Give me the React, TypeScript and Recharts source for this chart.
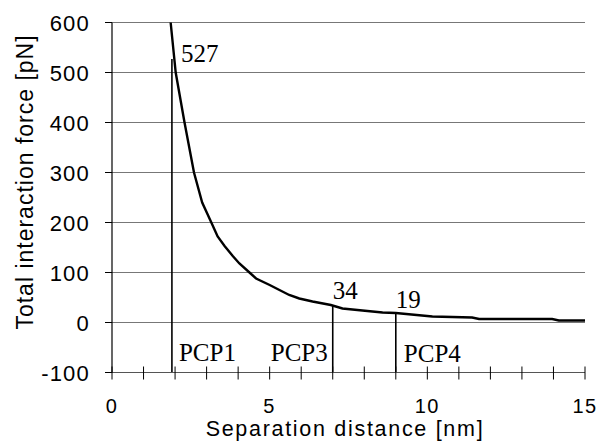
import React from 'react'
import {
  ComposedChart,
  Line,
  XAxis,
  YAxis,
  CartesianGrid,
  ReferenceLine,
  ReferenceDot,
} from 'recharts'

// separation distance [nm] and total force [pN]
const distance = [
  1.86, 2.02, 2.3, 2.6, 2.86, 3.15, 3.35, 3.57, 3.83, 4.04, 4.36, 4.57, 5.0,
  5.31, 5.62, 5.94, 6.36, 6.94, 7.31, 7.94, 8.58, 9.0, 10.16, 11.42, 11.64,
  13.96, 14.17, 15,
]
const force = [
  600, 500, 400, 300, 240, 200, 172, 153, 133, 118, 100, 88, 75, 65, 55, 48, 42,
  35, 28, 24, 20, 19, 12, 10, 7, 7, 4, 4,
]

// primary contact points
const markerX = [1.9, 7, 9]
const markerForce = [527, 34, 19]
const markerNames = ['PCP1', 'PCP3', 'PCP4']

const xTicks = [0, 1, 2, 3, 4, 5, 6, 7, 8, 9, 10, 11, 12, 13, 14, 15]
const yTicks = [-100, 0, 100, 200, 300, 400, 500, 600]

const data = distance.map((d, i) => ({ d, force: force[i] }))

const SANS = '"Liberation Sans", Arial, sans-serif'
const SERIF = '"Liberation Serif", "Times New Roman", serif'

// label offsets (px) for the value and name texts
const valueOffset = [
  { dx: 9, dy: 3, anchor: 'start' },
  { dx: 0, dy: -7, anchor: 'start' },
  { dx: 0, dy: -5, anchor: 'start' },
]
const nameOffset = [
  { dx: 7, dy: -12, anchor: 'start' },
  { dx: -5, dy: -12, anchor: 'end' },
  { dx: 8, dy: -11, anchor: 'start' },
]

function XTick(props: any) {
  const { x, y, payload } = props
  return (
    <g>
      <line x1={x} x2={x} y1={y - 6} y2={y + 7} stroke="#000" strokeWidth={1} />
      {payload.value % 5 === 0 && (
        <text
          x={x}
          y={y + 40}
          textAnchor="middle"
          fontFamily={SANS}
          fontSize={20}
          letterSpacing={1.5}
          fill="#000"
        >
          {payload.value}
        </text>
      )}
    </g>
  )
}

function YTick(props: any) {
  const { x, y, payload } = props
  return (
    <text
      x={x}
      y={y + 8}
      textAnchor="end"
      fontFamily={SANS}
      fontSize={22}
      letterSpacing={1.2}
      fill="#000"
    >
      {payload.value}
    </text>
  )
}

function serifLabel(text: string, off: { dx: number; dy: number; anchor: string }) {
  return (props: any) => {
    const vb = props.viewBox || {}
    return (
      <text
        x={vb.x + off.dx}
        y={vb.y + off.dy}
        textAnchor={off.anchor as any}
        fontFamily={SERIF}
        fontSize={25}
        fill="#000"
      >
        {text}
      </text>
    )
  }
}

export default function App() {
  return (
    <div style={{ position: 'absolute', left: 0, top: 0, background: '#fff' }}>
      <ComposedChart
        width={605}
        height={446}
        data={data}
        margin={{ top: 22.5, right: 20, bottom: 43.5, left: 0 }}
      >
        <CartesianGrid vertical={false} stroke="#777" strokeWidth={1.2} />
        <XAxis
          dataKey="d"
          type="number"
          domain={[0, 15]}
          ticks={xTicks}
          interval={0}
          height={30}
          tickSize={0}
          tickMargin={0}
          tickLine={false}
          axisLine={{ stroke: '#555', strokeWidth: 1.2 }}
          tick={<XTick />}
          label={{
            content: () => (
              <text
                x={345}
                y={436}
                textAnchor="middle"
                fontFamily={SANS}
                fontSize={21.5}
                letterSpacing={1.7}
                fill="#000"
              >
                Separation distance [nm]
              </text>
            ),
          }}
        />
        <YAxis
          type="number"
          width={112}
          domain={[-100, 600]}
          ticks={yTicks}
          interval={0}
          tickSize={7}
          tickMargin={15}
          tickLine={{ stroke: '#000' }}
          axisLine={{ stroke: '#000', strokeWidth: 1.2 }}
          tick={<YTick />}
          label={{
            content: () => (
              <text
                transform="translate(33,182) rotate(-90)"
                textAnchor="middle"
                fontFamily={SANS}
                fontSize={23}
                letterSpacing={1}
                fill="#000"
              >
                Total interaction force [pN]
              </text>
            ),
          }}
        />
        <Line
          type="linear"
          dataKey="force"
          stroke="#000"
          strokeWidth={2.4}
          dot={false}
          isAnimationActive={false}
        />
        {markerX.map((x, i) => (
          <ReferenceLine
            key={'l' + i}
            segment={[
              { x, y: -100 },
              { x, y: markerForce[i] },
            ]}
            stroke="#000"
            strokeWidth={1.6}
          />
        ))}
        {markerX.map((x, i) => (
          <ReferenceDot
            key={'v' + i}
            x={x}
            y={markerForce[i]}
            r={0}
            stroke="none"
            fill="none"
            label={{ content: serifLabel(String(markerForce[i]), valueOffset[i]) }}
          />
        ))}
        {markerX.map((x, i) => (
          <ReferenceDot
            key={'n' + i}
            x={x}
            y={-100}
            r={0}
            stroke="none"
            fill="none"
            label={{ content: serifLabel(markerNames[i], nameOffset[i]) }}
          />
        ))}
      </ComposedChart>
    </div>
  )
}
